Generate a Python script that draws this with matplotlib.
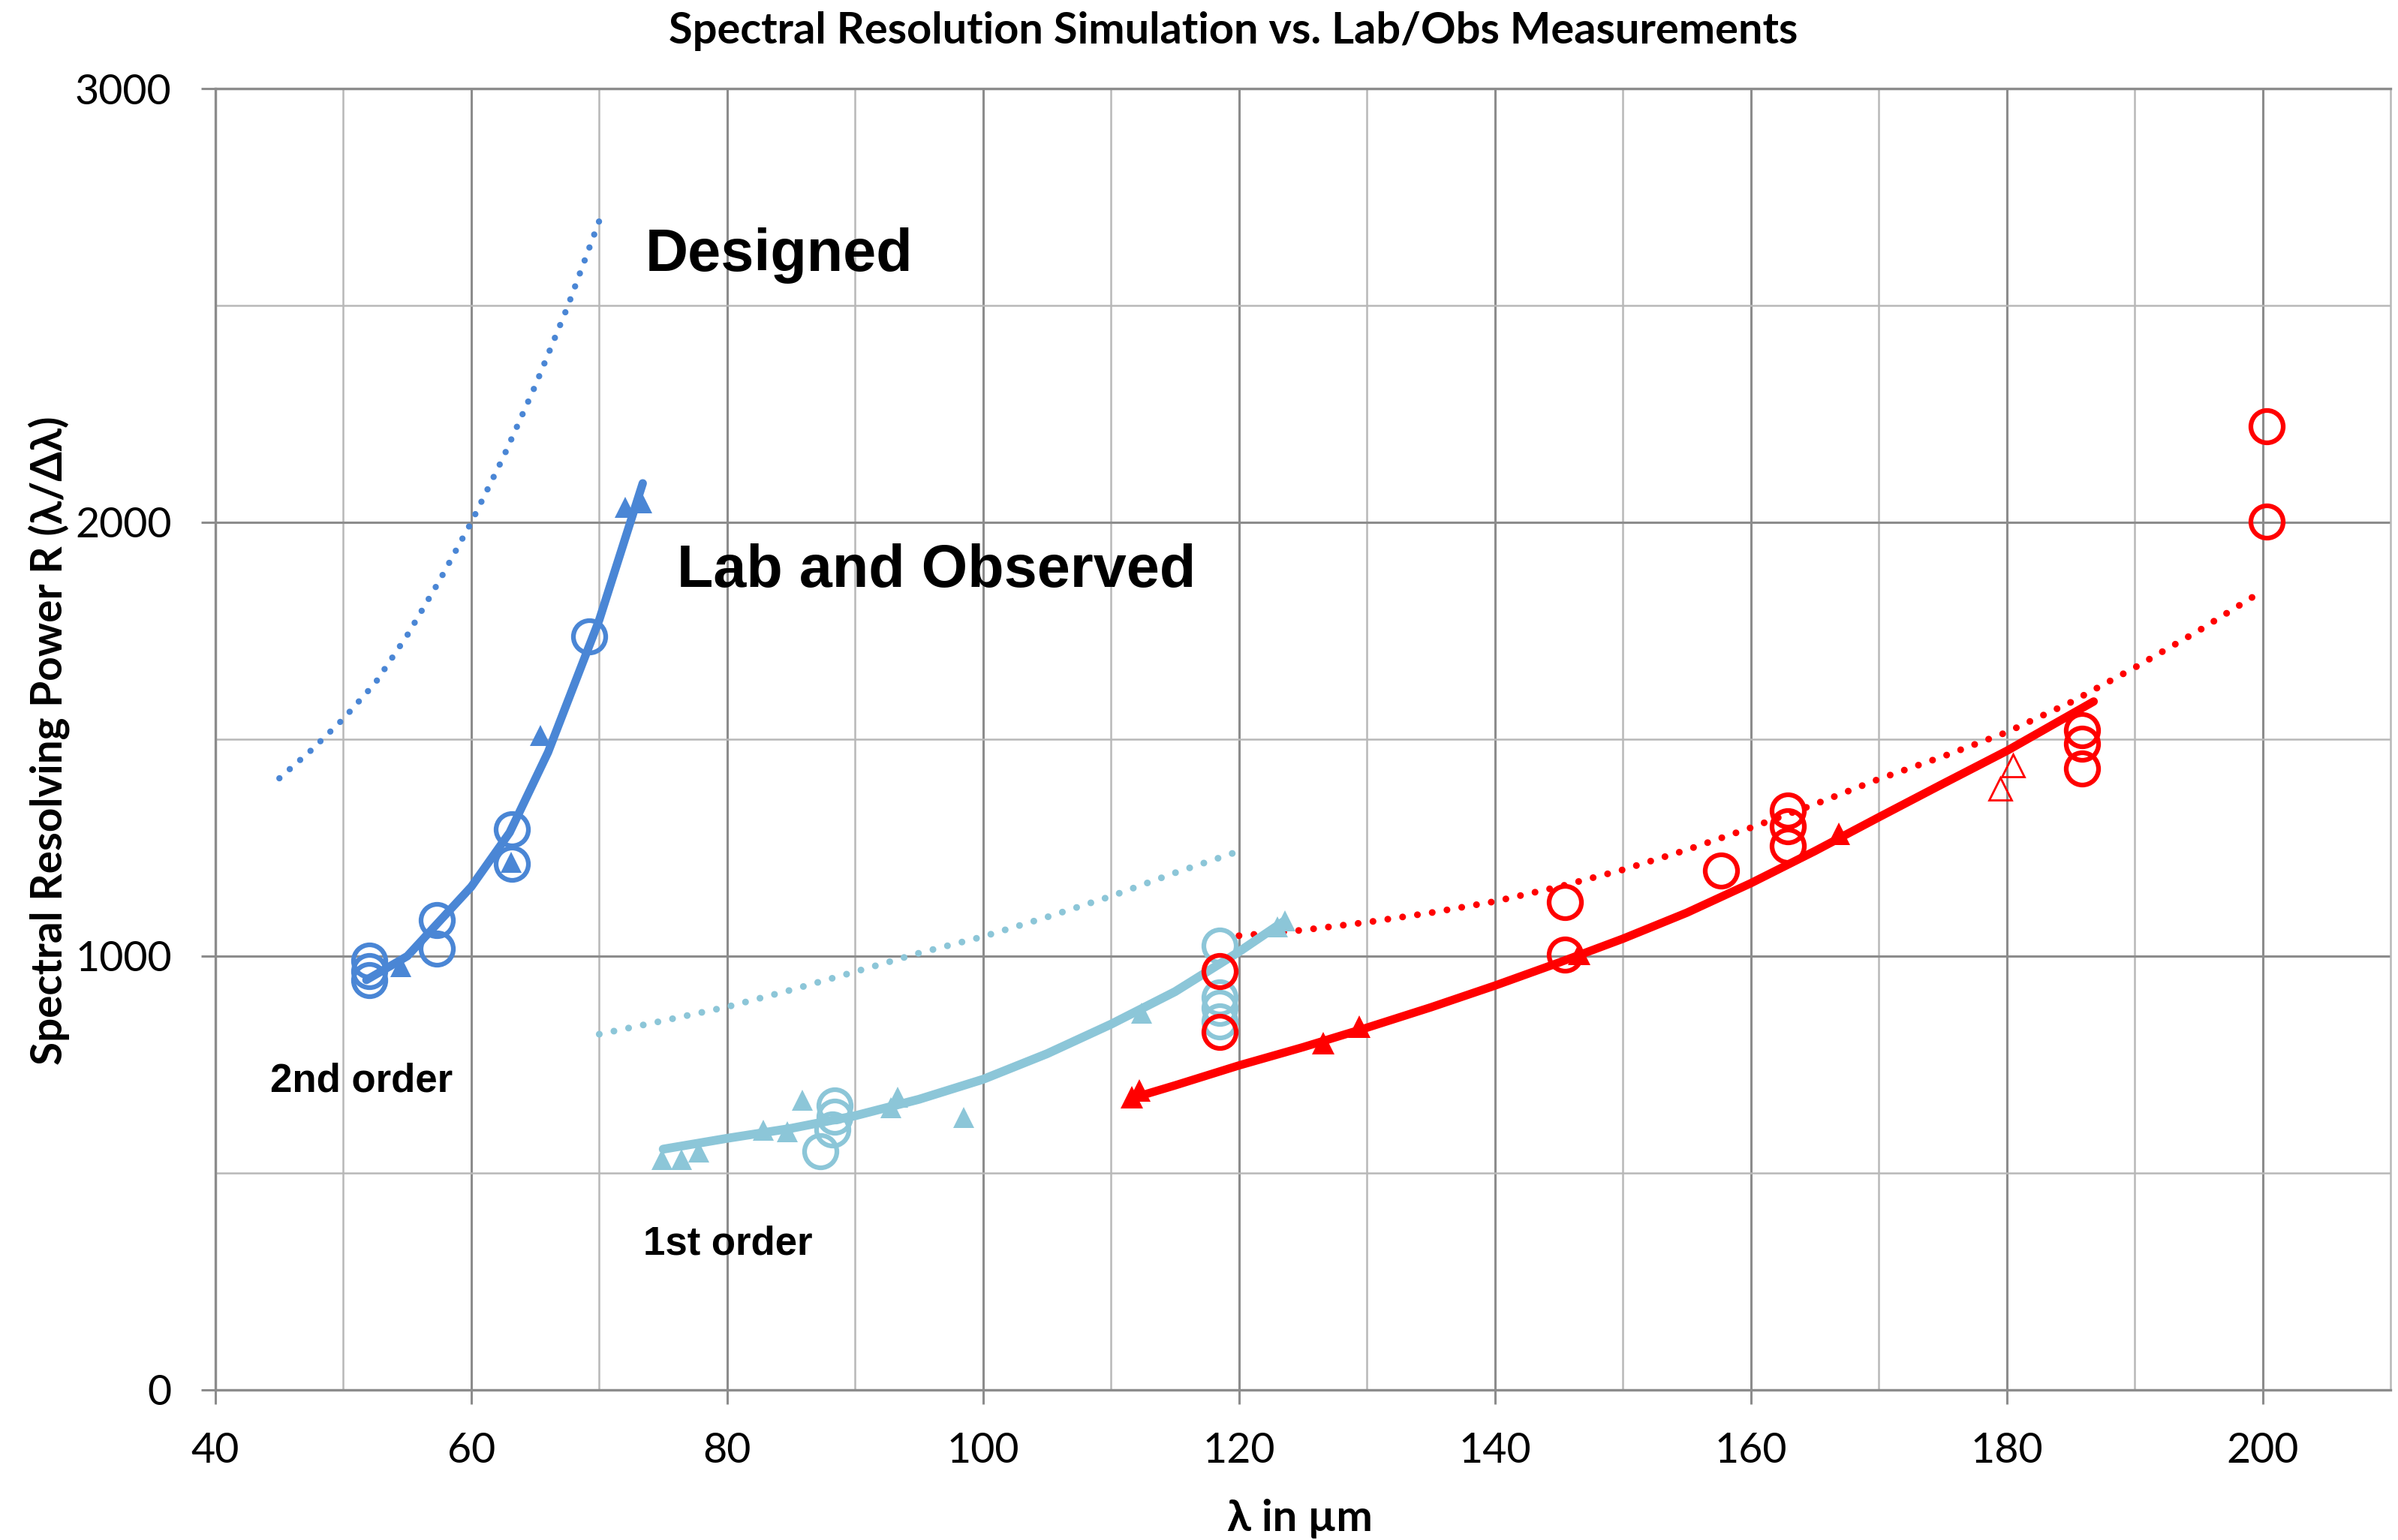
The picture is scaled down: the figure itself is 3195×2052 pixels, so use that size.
import matplotlib
matplotlib.use('Agg')
import matplotlib.pyplot as plt

# ---------------- data ----------------
blue_design_x = [45, 47.5, 50, 52.5, 55, 57.5, 60, 62.5, 65, 67.5, 70]
blue_design_y = [1410, 1475, 1547, 1630, 1740, 1865, 2000, 2150, 2315, 2495, 2695]
blue_fit_x = [51.8, 55, 60, 63, 66, 70, 73.4]
blue_fit_y = [945, 1000, 1160, 1285, 1470, 1775, 2090]
blue_circ_x = [52, 52, 52, 57.3, 57.3, 63.2, 63.2, 69.2]
blue_circ_y = [990, 965, 945, 1083, 1018, 1292, 1212, 1737]
blue_tri_x = [54.5, 63.1, 65.4, 72.0, 73.3]
blue_tri_y = [975, 1217, 1509, 2035, 2045]

cyan_design_x = [70, 75, 80, 85, 90, 95, 100, 105, 110, 115, 119.5]
cyan_design_y = [820, 851, 883, 922, 964, 1007, 1045, 1090, 1138, 1192, 1237]
cyan_fit_x = [75, 80, 85, 90, 95, 100, 105, 110, 115, 120, 123.5]
cyan_fit_y = [555, 580, 603, 632, 670, 716, 775, 843, 918, 1010, 1080]
cyan_circ_x = [88.4, 88.4, 88.2, 87.3, 118.5, 118.5, 118.5, 118.5]
cyan_circ_y = [655, 630, 600, 550, 1025, 905, 880, 850]
cyan_tri_x = [74.9, 76.4, 77.8, 82.8, 84.7, 85.9, 92.8, 93.3, 98.5, 112.4, 123.0, 123.6]
cyan_tri_y = [532, 532, 548, 598, 595, 668, 650, 675, 628, 868, 1068, 1082]

red_design_x = [120, 125, 130, 135, 140, 145, 150, 155, 160, 165, 170, 175, 180, 185, 190, 195, 200]
red_design_y = [1047, 1060, 1078, 1100, 1126, 1160, 1199, 1245, 1296, 1350, 1408, 1460, 1516, 1585, 1665, 1750, 1842]
red_fit_x = [111.6, 115, 120, 125, 130, 135, 140, 145, 150, 155, 160, 165, 170, 175, 180, 186.8]
red_fit_y = [672, 702, 748, 790, 835, 882, 932, 985, 1040, 1100, 1168, 1242, 1320, 1397, 1473, 1587]
red_circ_x = [118.5, 118.5, 145.5, 145.5, 157.7, 162.9, 162.9, 162.9, 185.9, 185.9, 185.9, 200.3, 200.3]
red_circ_y = [965, 825, 1125, 1003, 1197, 1335, 1300, 1255, 1520, 1490, 1432, 2222, 2002]
red_tri_x = [111.6, 112.2, 126.6, 129.4, 146.6, 166.9]
red_tri_y = [675, 690, 800, 838, 1005, 1282]
red_otri_x = [179.5, 180.5]
red_otri_y = [1386, 1440]

x_ticks = [40, 60, 80, 100, 120, 140, 160, 180, 200]
y_ticks = [0, 1000, 2000, 3000]

title = "Spectral Resolution Simulation vs. Lab/Obs Measurements"
ylabel = "Spectral Resolving Power R (\u03bb/\u0394\u03bb)"
xlabel = "\u03bb in \u00b5m"

# ---------------- styling ----------------
BLUE = '#4A86D5'
CYAN = '#8CC6D8'
RED = '#FF0000'
MAJ = '#8C8C8C'
MIN = '#B8B8B8'
W, H, DPI = 3195, 2052, 100

fig = plt.figure(figsize=(W / DPI, H / DPI), dpi=DPI)
ax = fig.add_axes([287 / W, 1 - 1852 / H, (3185 - 287) / W, (1852 - 118) / H])
ax.set_xlim(40, 210)
ax.set_ylim(0, 3000)

ax.set_xticks(x_ticks)
ax.set_xticks([50, 70, 90, 110, 130, 150, 170, 190], minor=True)
ax.set_yticks(y_ticks)
ax.set_yticks([500, 1500, 2500], minor=True)
ax.set_axisbelow(True)
ax.grid(which='major', color=MAJ, lw=2.2)
ax.grid(which='minor', color=MIN, lw=1.8)
ax.tick_params(which='minor', length=0)
ax.tick_params(which='major', direction='out', length=14, width=2.2, color=MAJ)
ax.tick_params(axis='x', pad=26)
ax.tick_params(axis='y', pad=28)
tick_font = ['Lato', 'DejaVu Sans']
for lab in ax.get_xticklabels() + ax.get_yticklabels():
    lab.set_fontfamily(tick_font)
    lab.set_fontsize(40)
for s in ['left', 'bottom', 'top']:
    ax.spines[s].set_color(MAJ)
    ax.spines[s].set_linewidth(2.4)
ax.spines['right'].set_color(MIN)
ax.spines['right'].set_linewidth(1.8)

dot = dict(linestyle=(0, (0.01, 2.2)), dash_capstyle='round')

# designed (dotted)
ax.plot(blue_design_x, blue_design_y, color=BLUE, lw=6, **dot)
ax.plot(cyan_design_x, cyan_design_y, color=CYAN, lw=6.5, **dot)
ax.plot(red_design_x, red_design_y, color=RED, lw=6.5, **dot)

circ = dict(ls='none', marker='o', ms=31, mfc='none', mew=4.5)
tri = dict(ls='none', marker='^', ms=20, mew=0)

# 1st order (cyan)
ax.plot(cyan_circ_x, cyan_circ_y, color=CYAN, mec=CYAN, **circ)
ax.plot(cyan_fit_x, cyan_fit_y, color=CYAN, lw=8.5, solid_capstyle='round',
        solid_joinstyle='round')
ax.plot(cyan_tri_x, cyan_tri_y, color=CYAN, **tri)

# 2nd order (blue)
ax.plot(blue_fit_x, blue_fit_y, color=BLUE, lw=8, solid_capstyle='round',
        solid_joinstyle='round')
ax.plot(blue_circ_x, blue_circ_y, color=BLUE, mec=BLUE, **circ)
ax.plot(blue_tri_x, blue_tri_y, color=BLUE, **tri)

# red
ax.plot(red_fit_x, red_fit_y, color=RED, lw=8, solid_capstyle='round',
        solid_joinstyle='round')
ax.plot(red_tri_x, red_tri_y, color=RED, ls='none', marker='^', ms=21, mew=0)
ax.plot(red_otri_x, red_otri_y, color=RED, ls='none', marker='^', ms=21, mfc='none', mec=RED, mew=2)
ax.plot(red_circ_x, red_circ_y, color=RED, mec=RED, **circ)

# annotations
ann = dict(family=['Liberation Sans', 'DejaVu Sans'], weight='bold', color='black')
ax.text(73.57, 2580, 'Designed', fontsize=57, va='baseline', ha='left', **ann)
ax.text(76.08, 1851, 'Lab and Observed', fontsize=57, va='baseline', ha='left', **ann)
ax.text(44.3, 687, '2nd order', fontsize=38, va='baseline', ha='left', **ann)
ax.text(73.45, 313, '1st order', fontsize=38, va='baseline', ha='left', **ann)

lab_font = ['Lato', 'DejaVu Sans']
t_title = fig.text(1643 / W, 1 - 41 / H, title, ha='center', va='center',
                   family=lab_font, weight='bold', fontsize=34)
t_y = fig.text(65 / W, 1 - 987 / H, ylabel, ha='center', va='center', rotation=90,
               family=lab_font, weight='bold', fontsize=32)
t_x = fig.text(1732 / W, 1 - 2023 / H, xlabel, ha='center', va='center',
               family=lab_font, weight='bold', fontsize=34)

# fit text sizes to the measured extents
r = fig.canvas.get_renderer()
for t, target, dim in [(t_title, 1506, 'w'), (t_y, 866, 'h'), (t_x, 194, 'w')]:
    bb = t.get_window_extent(r)
    cur = bb.width if dim == 'w' else bb.height
    t.set_fontsize(t.get_fontsize() * target / cur)

fig.savefig('out.png', dpi=DPI, facecolor='white')
